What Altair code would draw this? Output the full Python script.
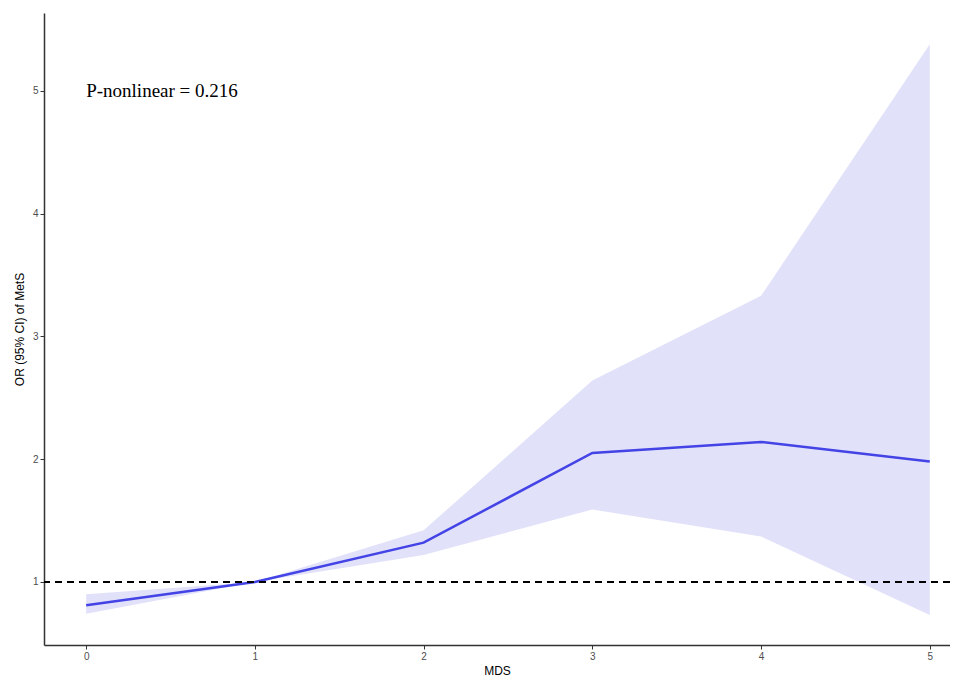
import altair as alt
import pandas as pd

mds = [0, 1, 2, 3, 4, 5]
odds_ratio = [0.81, 1.00, 1.32, 2.05, 2.14, 1.98]
ci_lower = [0.74, 1.00, 1.22, 1.59, 1.37, 0.73]
ci_upper = [0.90, 1.00, 1.42, 2.64, 3.33, 5.38]
annotation = "P-nonlinear = 0.216"

df = pd.DataFrame({"MDS": mds, "OR": odds_ratio, "lo": ci_lower, "hi": ci_upper})

xscale = alt.Scale(domain=[-0.25, 5.12], nice=False, zero=False)
yscale = alt.Scale(domain=[0.486, 5.634], nice=False, zero=False)

axis_common = dict(
    grid=False,
    domainColor="#333333",
    domainWidth=1.5,
    tickColor="#333333",
    tickWidth=1,
    tickSize=4,
    labelPadding=2,
    labelFont="Liberation Sans",
    labelFontSize=10,
    labelColor="#4D4D4D",
    titleFont="Liberation Sans",
    titleFontSize=12,
    titleFontWeight="normal",
    titleColor="#000000",
)

x_enc = alt.X("MDS:Q", scale=xscale,
              axis=alt.Axis(values=[0, 1, 2, 3, 4, 5], format="d", title="MDS",
                            titlePadding=4, **axis_common))

band = alt.Chart(df).mark_area(color="#E1E1FA", opacity=1).encode(
    x=x_enc,
    y=alt.Y("lo:Q", scale=yscale,
            axis=alt.Axis(values=[1, 2, 3, 4, 5], format="d",
                          title="OR (95% CI) of MetS", titlePadding=6, **axis_common)),
    y2="hi:Q",
)

line = alt.Chart(df).mark_line(color="#4343E6", strokeWidth=2.5).encode(
    x=alt.X("MDS:Q", scale=xscale),
    y=alt.Y("OR:Q", scale=yscale),
)

ref = alt.Chart(pd.DataFrame({"y": [1.0]})).mark_rule(
    color="black", strokeWidth=2, strokeDash=[7, 5]
).encode(y=alt.Y("y:Q", scale=yscale))

text = alt.Chart(pd.DataFrame({"x": [0], "y": [5], "t": [annotation]})).mark_text(
    align="left", baseline="middle", font="Liberation Serif", fontSize=19, color="black"
).encode(
    x=alt.X("x:Q", scale=xscale),
    y=alt.Y("y:Q", scale=yscale),
    text="t:N",
)

chart = alt.layer(band, line, ref, text).properties(
    width=906,
    height=632,
    autosize=alt.AutoSizeParams(type="none"),
    padding={"left": 36, "top": 5, "right": 0, "bottom": 32},
    background="white",
).configure_view(stroke=None)

chart.save("out.html", embed_options={"renderer": "svg", "actions": False})
